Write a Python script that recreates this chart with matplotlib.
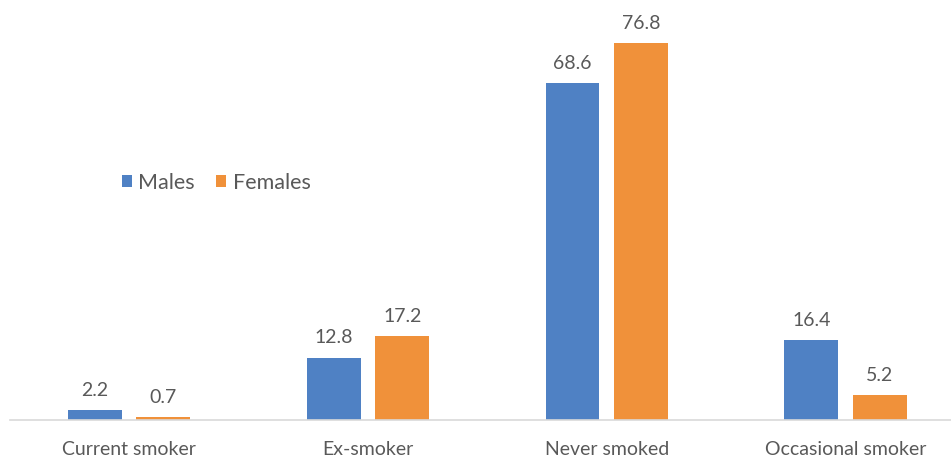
import numpy as np
import matplotlib.pyplot as plt

categories = ['Current smoker', 'Ex-smoker', 'Never smoked', 'Occasional smoker']
males = [2.2, 12.8, 68.6, 16.4]
females = [0.7, 17.2, 76.8, 5.2]

BLUE = '#4F81C4'
ORANGE = '#F0913A'
GREY = '#595959'

plt.rcParams['font.family'] = ['Lato', 'DejaVu Sans']

fig = plt.figure(figsize=(9.51, 4.65), dpi=100)
ax = fig.add_axes([0.0101, 0.0957, 1.0047, 0.8465])

x = np.arange(len(categories))
off = 0.1435
w = 0.226
b1 = ax.bar(x - off, males, w, color=BLUE, label='Males')
b2 = ax.bar(x + off, females, w, color=ORANGE, label='Females')

for bars, vals in ((b1, males), (b2, females)):
    for rect, v in zip(bars, vals):
        ax.annotate('{:.1f}'.format(v), (rect.get_x() + rect.get_width() / 2, v),
                    xytext=(0, 8), textcoords='offset points',
                    ha='center', va='bottom', fontsize=14, color=GREY)

ax.set_xlim(-0.5, 3.5)
ax.set_ylim(0, 80)
ax.set_yticks([])
ax.set_xticks(x)
ax.set_xticklabels(categories, fontsize=14, color=GREY)
ax.tick_params(axis='x', length=0, pad=15)
for s in ['top', 'right', 'left']:
    ax.spines[s].set_visible(False)
ax.spines['bottom'].set_color('#D9D9D9')
ax.spines['bottom'].set_linewidth(1.2)

leg = fig.legend(loc='center left', bbox_to_anchor=(0.108, 0.607), ncol=2,
                 frameon=False, fontsize=15.5, handlelength=0.45, handleheight=0.45,
                 handletextpad=0.3, columnspacing=1.0, labelcolor=GREY)

fig.savefig('out.png', dpi=100)
